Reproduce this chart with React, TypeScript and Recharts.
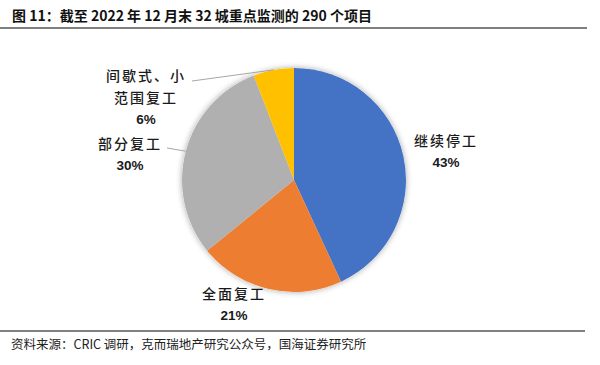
import { PieChart, Pie, Cell } from "recharts";

const categories = ["继续停工", "全面复工", "部分复工", "间歇式、小范围复工"];
const projectCounts = [125, 61, 87, 17];
const percentLabels = ["43%", "21%", "30%", "6%"];
const labelLines = [["继续停工"], ["全面复工"], ["部分复工"], ["间歇式、小", "范围复工"]];

const colors = ["#4472C4", "#ED7D31", "#B0B0B0", "#FFC000"];

// label block centre (first line) relative to pie centre, plus optional leader line start
const labelLayout = [
  { dx: 152, dy: -40, lead: null },
  { dx: -60, dy: 113, lead: null },
  { dx: -164, dy: -37, lead: { dx: -127, dy: -32 } },
  { dx: -148, dy: -105, lead: { dx: -102, dy: -99 } },
];

const data = categories.map((name, i) => ({ name, value: projectCounts[i] }));

const RAD = Math.PI / 180;

function renderLabel(props: any) {
  const { cx, cy, midAngle, outerRadius, index } = props;
  const lay = labelLayout[index];
  const lines = [...labelLines[index], percentLabels[index]];
  const x = cx + lay.dx;
  const y0 = cy + lay.dy;
  const ex = cx + outerRadius * Math.cos(-midAngle * RAD);
  const ey = cy + outerRadius * Math.sin(-midAngle * RAD);
  return (
    <g key={`lbl-${index}`}>
      {lay.lead && (
        <polyline
          points={`${cx + lay.lead.dx},${cy + lay.lead.dy} ${ex},${ey}`}
          fill="none"
          stroke="#A6A6A6"
          strokeWidth={1}
        />
      )}
      {lines.map((t, j) => {
        const isPct = j === lines.length - 1;
        return (
          <text
            key={j}
            x={x}
            y={y0 + j * 22}
            textAnchor="middle"
            dominantBaseline="central"
            fill="#1a1a1a"
            style={
              isPct
                ? { fontFamily: "'Liberation Sans', Arial, sans-serif", fontWeight: 700, fontSize: 13.5 }
                : { fontFamily: "'Noto Sans CJK SC', sans-serif", fontWeight: 500, fontSize: 14, letterSpacing: 2 }
            }
          >
            {t}
          </text>
        );
      })}
    </g>
  );
}

export default function App() {
  return (
    <div style={{ position: "absolute", left: 0, top: 0, width: 600, height: 365, background: "#fff", overflow: "hidden" }}>
      <style>{"body{margin:0}"}</style>
      <div
        style={{
          position: "absolute",
          left: 12,
          top: 5,
          fontFamily: "'Noto Sans CJK SC', sans-serif",
          fontWeight: 700,
          fontSize: 14,
          color: "#111",
          whiteSpace: "nowrap",
        }}
      >
        图 11：截至 2022 年 12 月末 32 城重点监测的 290 个项目
      </div>
      <div style={{ position: "absolute", left: 0, top: 27, width: 587, height: 2, background: "#7F7F7F" }} />
      <div style={{ position: "absolute", left: 0, top: 0 }}>
        <PieChart width={600} height={365} margin={{ top: 0, right: 0, bottom: 0, left: 0 }}>
          <defs>
            <filter id="pieShadow" x="-20%" y="-20%" width="140%" height="140%">
              <feGaussianBlur in="SourceAlpha" stdDeviation="3" />
              <feComponentTransfer>
                <feFuncA type="linear" slope="0.35" />
              </feComponentTransfer>
              <feMerge>
                <feMergeNode />
                <feMergeNode in="SourceGraphic" />
              </feMerge>
            </filter>
          </defs>
          <Pie
            data={data}
            dataKey="value"
            cx={294}
            cy={180}
            outerRadius={112}
            startAngle={90}
            endAngle={-270}
            stroke="none"
            isAnimationActive={false}
            label={false}
            labelLine={false}
          >
            {data.map((d) => (
              <Cell key={d.name} fill="#fff" filter="url(#pieShadow)" />
            ))}
          </Pie>
          <Pie
            data={data}
            dataKey="value"
            cx={294}
            cy={180}
            outerRadius={112}
            startAngle={90}
            endAngle={-270}
            stroke="none"
            isAnimationActive={false}
            label={renderLabel}
            labelLine={false}
          >
            {data.map((d, i) => (
              <Cell key={d.name} fill={colors[i]} />
            ))}
          </Pie>
        </PieChart>
      </div>
      <div style={{ position: "absolute", left: 0, top: 330, width: 585, height: 1.5, background: "#808080" }} />
      <div
        style={{
          position: "absolute",
          left: 11,
          top: 334,
          fontFamily: "'Noto Sans CJK SC', sans-serif",
          fontSize: 12.5,
          color: "#222",
          whiteSpace: "nowrap",
        }}
      >
        资料来源：CRIC 调研，克而瑞地产研究公众号，国海证券研究所
      </div>
    </div>
  );
}
